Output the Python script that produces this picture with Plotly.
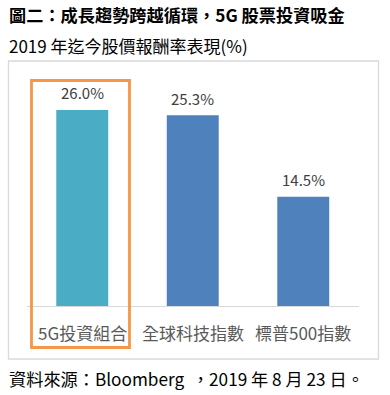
import plotly.graph_objects as go

categories = ["5G投資組合", "全球科技指數", "標普500指數"]
values = [26.0, 25.3, 14.5]
value_labels = ["26.0%", "25.3%", "14.5%"]
bar_colors = ["#4BACC6", "#4F81BD", "#4F81BD"]

title = "圖二：成長趨勢跨越循環，5G 股票投資吸金"
subtitle = "2019 年迄今股價報酬率表現(%)"
footer = "資料來源：Bloomberg  ，2019 年 8 月 23 日。"

W, H = 390, 395
FONT = "Noto Sans CJK TC"

def px(x):
    return x / W

def py(y):
    return (H - y) / H

base_px = 306
unit = 196 / 26.0
ymax = 30
top_px = base_px - ymax * unit

fig = go.Figure()
fig.add_trace(go.Bar(
    x=categories, y=values, marker_color=bar_colors, width=0.47,
    marker_line_width=0, hoverinfo="skip",
))

ann = []
for c, v, t in zip(categories, values, value_labels):
    ann.append(dict(x=c, y=v, xref="x", yref="y", text=t, showarrow=False,
                    yanchor="middle", yshift=17,
                    font=dict(family=FONT, size=15, color="#404040")))
    ann.append(dict(x=c, y=py(332), xref="x", yref="paper", text=c, showarrow=False,
                    yanchor="middle",
                    font=dict(family=FONT, size=17, color="#595959")))

ann.append(dict(x=px(7), y=py(15), xref="paper", yref="paper", text="<b>" + title + "</b>",
                showarrow=False, xanchor="left", yanchor="middle",
                font=dict(family=FONT, size=17.2, color="#000000")))
ann.append(dict(x=px(7), y=py(45), xref="paper", yref="paper", text=subtitle,
                showarrow=False, xanchor="left", yanchor="middle",
                font=dict(family=FONT, size=17, color="#000000")))
ann.append(dict(x=px(7), y=py(378), xref="paper", yref="paper", text=footer,
                showarrow=False, xanchor="left", yanchor="middle",
                font=dict(family=FONT, size=17.2, color="#000000")))

shapes = [
    dict(type="rect", xref="paper", yref="paper", x0=px(8.5), x1=px(378.5), y0=py(61), y1=py(359),
         line=dict(color="#D9D9D9", width=1.3), fillcolor="rgba(0,0,0,0)", layer="below"),
    dict(type="rect", xref="paper", yref="paper", x0=px(31.5), x1=px(129.5), y0=py(80.5), y1=py(347.5),
         line=dict(color="#F79646", width=2.8), fillcolor="rgba(0,0,0,0)"),
]

fig.update_layout(
    width=W, height=H,
    margin=dict(l=0, r=0, t=0, b=0),
    paper_bgcolor="white", plot_bgcolor="white",
    showlegend=False,
    xaxis=dict(domain=[px(27), px(358.5)], range=[-0.5, 2.5], showticklabels=False,
               showline=True, linecolor="#D9D9D9", linewidth=1.3, ticks="", showgrid=False,
               fixedrange=True),
    yaxis=dict(domain=[py(base_px), py(top_px)], range=[0, ymax], visible=False,
               showgrid=False, zeroline=False, fixedrange=True),
    annotations=ann, shapes=shapes,
)

fig.write_html("out.html", config={"displayModeBar": False},
               post_script="document.body.style.margin='0';document.body.style.overflow='hidden';")
